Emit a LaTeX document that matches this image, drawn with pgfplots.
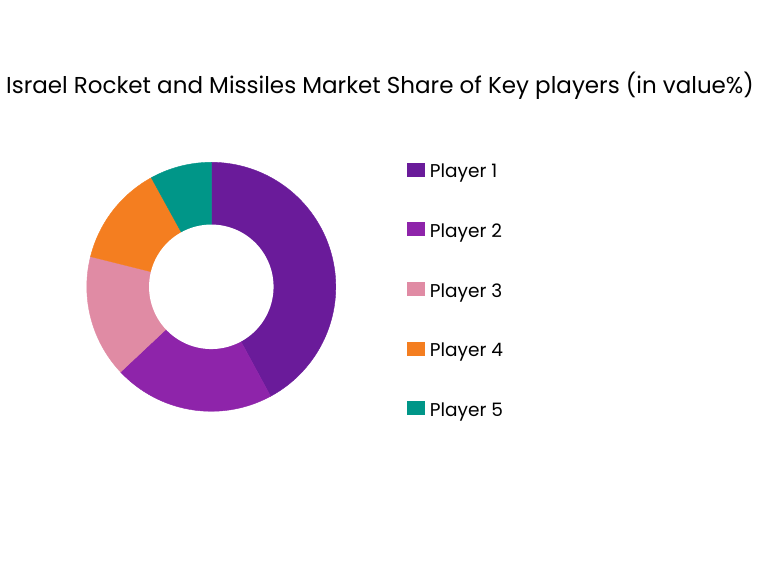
\documentclass[border=0pt]{standalone}
\usepackage{fontspec}
\setmainfont{Poppins}
\usepackage{pgfplots}
\pgfplotsset{compat=1.18}
\definecolor{cA}{HTML}{6A1B9A}
\definecolor{cB}{HTML}{8E24AA}
\definecolor{cC}{HTML}{E08BA4}
\definecolor{cD}{HTML}{F47E20}
\definecolor{cE}{HTML}{009688}
% market shares (%)
\def\vA{42.1}
\def\vB{20.9}
\def\vC{15.9}
\def\vD{13.1}
\def\vE{8.0}
\begin{document}
\begin{tikzpicture}[x=1pt,y=1pt]
\useasboundingbox (0,0) rectangle (766,576);
\pgfmathsetmacro\aA{90}
\pgfmathsetmacro\aB{\aA-3.6*\vA}
\pgfmathsetmacro\aC{\aB-3.6*\vB}
\pgfmathsetmacro\aD{\aC-3.6*\vC}
\pgfmathsetmacro\aE{\aD-3.6*\vD}
\pgfmathsetmacro\aF{\aE-3.6*\vE}
\node[anchor=base, font=\fontsize{23}{26}\selectfont] at (380,482.7) {Israel Rocket and Missiles Market Share of Key players (in value\%)};
\begin{axis}[
  at={(211.3pt,289.2pt)}, anchor=origin,
  x=124.5pt, y=124.5pt,
  xmin=-1, xmax=1, ymin=-1, ymax=1,
  hide axis, clip=false,
  legend cell align=left,
  legend style={at={(axis description cs:1.2871,1.0)}, anchor=north west,
    draw=none, fill=none, inner sep=0pt, row sep=44.5pt, column sep=5pt,
    font=\fontsize{18.5}{21}\selectfont,
    nodes={inner sep=0pt, text height=13pt, text depth=0pt}},
  legend image code/.code={\fill[#1] (0pt,-4.5pt) rectangle (17pt,8.5pt);},
]
\addplot[fill=cA, draw=cA, line width=0.4pt, domain=\aB:\aA, samples=100] ({cos(x)},{sin(x)}) -- (axis cs:0,0) -- cycle;
\addlegendentry{Player 1}
\addplot[fill=cB, draw=cB, line width=0.4pt, domain=\aC:\aB, samples=60] ({cos(x)},{sin(x)}) -- (axis cs:0,0) -- cycle;
\addlegendentry{Player 2}
\addplot[fill=cC, draw=cC, line width=0.4pt, domain=\aD:\aC, samples=50] ({cos(x)},{sin(x)}) -- (axis cs:0,0) -- cycle;
\addlegendentry{Player 3}
\addplot[fill=cD, draw=cD, line width=0.4pt, domain=\aE:\aD, samples=50] ({cos(x)},{sin(x)}) -- (axis cs:0,0) -- cycle;
\addlegendentry{Player 4}
\addplot[fill=cE, draw=cE, line width=0.4pt, domain=\aF:\aE, samples=40] ({cos(x)},{sin(x)}) -- (axis cs:0,0) -- cycle;
\addlegendentry{Player 5}
\addplot[fill=white, draw=none, domain=0:360, samples=150, forget plot] ({0.5*cos(x)},{0.5*sin(x)});
\end{axis}
\end{tikzpicture}
\end{document}
